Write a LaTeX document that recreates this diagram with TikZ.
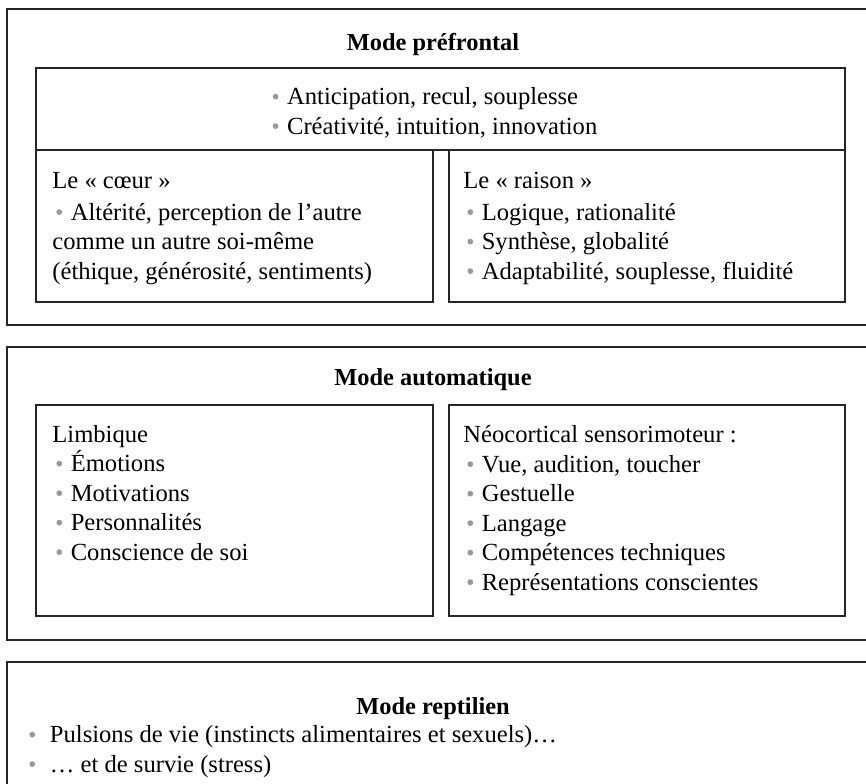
\documentclass[tikz,border=0pt]{standalone}
\usepackage{fontspec}
\setmainfont{Liberation Serif}

\newcommand\puce[1][0.35em]{\hspace{2pt}\tikz[baseline=-0.32em]\fill[black!40] (0,0) circle (1.45pt);\hspace{#1}}

\begin{document}
\begin{tikzpicture}[x=0.5pt, y=-0.5pt,
    cadre/.style={draw=black!85, line width=0.75pt},
    titre/.style={font=\fontsize{12.2}{14}\selectfont\bfseries, anchor=base, inner sep=0pt},
    liste/.style={font=\fontsize{12.3}{14.75}\selectfont, align=left, anchor=base west, inner sep=0pt}]
  \useasboundingbox (0,0) rectangle (866,783);
  \clip (0,0) rectangle (866,783);
  % mode prefrontal (lists are placed by the baseline of their last line)
  \draw[cadre] (7,9) rectangle (880,325);
  \draw[cadre] (36,68) rectangle (845,150);
  \draw[cadre] (36,150) rectangle (433,302);
  \draw[cadre] (449,150) rectangle (845,302);
  \node[titre] (pref) at (433,50) {Mode préfrontal};
  \node[liste, anchor=base] (global) at (433,134)
    {\puce Anticipation, recul, souplesse\\ \puce Créativité, intuition, innovation};
  \node[liste] (coeur) at (52,279)
    {Le « cœur »\\[1pt]\puce Altérité, perception de l'autre\\ comme un autre soi-même\\ (éthique, générosité, sentiments)};
  \node[liste] (raison) at (463,279)
    {Le « raison »\\[1pt]\puce Logique, rationalité\\ \puce Synthèse, globalité\\ \puce Adaptabilité, souplesse, fluidité};
  % mode automatique
  \draw[cadre] (7,347) rectangle (880,640);
  \draw[cadre] (36,405) rectangle (433,616);
  \draw[cadre] (449,405) rectangle (845,616);
  \node[titre] (auto) at (433,385) {Mode automatique};
  \node[liste] (limbique) at (52,560)
    {Limbique\\ \puce Émotions\\ \puce Motivations\\ \puce Personnalités\\ \puce Conscience de soi};
  \node[liste] (neo) at (463,590)
    {Néocortical sensorimoteur :\\ \puce Vue, audition, toucher\\ \puce Gestuelle\\ \puce Langage\\ \puce Compétences techniques\\ \puce Représentations conscientes};
  % mode reptilien
  \draw[cadre] (7,662) rectangle (880,800);
  \node[titre] (rept) at (433,714) {Mode reptilien};
  \node[liste] (pulsions) at (25,772)
    {\puce[0.6em]Pulsions de vie (instincts alimentaires et sexuels)…\\ \puce[0.6em]… et de survie (stress)};
\end{tikzpicture}
\end{document}
